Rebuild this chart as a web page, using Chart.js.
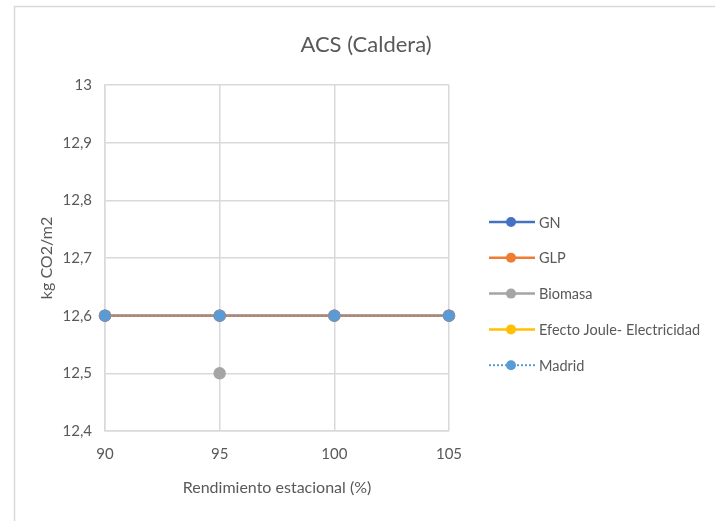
<!DOCTYPE html>
<html>
<head>
<meta charset="utf-8">
<script src="https://cdn.jsdelivr.net/npm/chart.js@4"></script>
<style>
  html, body { margin: 0; padding: 0; background: #ffffff; }
  #wrap { width: 715px; height: 521px; position: relative; }
</style>
</head>
<body>
<div id="wrap"><canvas id="c" width="715" height="521"></canvas></div>
<script>
// ---- Data ----
const chartTitle = 'ACS (Caldera)';
const xTitle = 'Rendimiento estacional (%)';
const yTitle = 'kg CO2/m2';
const categories = ['90', '95', '100', '105'];
const seriesNames = ['GN', 'GLP', 'Biomasa', 'Efecto Joule- Electricidad', 'Madrid'];
const gnValues = [12.6, 12.6, 12.6, 12.6];
const glpValues = [12.6, 12.6, 12.6, 12.6];
const biomasaValues = [null, 12.5, null, null];
const efectoValues = [null, null, null, null];
const madridValues = [12.6, 12.6, 12.6, 12.6];
const yMin = 12.4, yMax = 13, yStep = 0.1;

const colors = ['#4472C4', '#ED7D31', '#A5A5A5', '#FFC000', '#5B9BD5'];
const dashes = [[], [], [], [], [2, 2]];
const allValues = [gnValues, glpValues, biomasaValues, efectoValues, madridValues];

const FONT = 'Lato, "Open Sans", sans-serif';
const TEXT = '#595959';
const GRID = '#d9d9d9';

const datasets = seriesNames.map((name, i) => ({
  label: name,
  data: allValues[i],
  order: seriesNames.length - i,
  borderColor: colors[i],
  backgroundColor: colors[i],
  pointBackgroundColor: colors[i],
  pointBorderColor: colors[i],
  borderWidth: i === 4 ? 2 : 2.5,
  borderDash: dashes[i],
  pointRadius: 5,
  pointHoverRadius: 5,
  tension: 0,
  spanGaps: false
}));

const framePlugin = {
  id: 'frame',
  beforeDraw(chart) {
    const ctx = chart.ctx;
    ctx.save();
    ctx.fillStyle = '#ffffff';
    ctx.fillRect(0, 0, chart.width, chart.height);
    ctx.strokeStyle = GRID;
    ctx.lineWidth = 1.5;
    ctx.strokeRect(14.5, 6.5, chart.width + 10, chart.height + 10);
    ctx.restore();
  },
  afterDraw(chart) {
    const ctx = chart.ctx;
    ctx.save();
    // Title
    ctx.fillStyle = TEXT;
    ctx.font = '22px ' + FONT;
    ctx.textAlign = 'center';
    ctx.textBaseline = 'middle';
    ctx.fillText(chartTitle, 366, 45);
    // Legend (in dataset index order)
    const x0 = 489, x1 = 535, xm = 511, xt = 539;
    const y0 = 222, dy = 35.8;
    ctx.font = '14.5px ' + FONT;
    ctx.textAlign = 'left';
    chart.data.datasets.forEach((ds, i) => {
      const y = y0 + i * dy;
      ctx.strokeStyle = ds.borderColor;
      ctx.lineWidth = ds.borderWidth;
      ctx.setLineDash(ds.borderDash || []);
      ctx.beginPath();
      ctx.moveTo(x0, y);
      ctx.lineTo(x1, y);
      ctx.stroke();
      ctx.setLineDash([]);
      ctx.fillStyle = ds.backgroundColor;
      ctx.beginPath();
      ctx.arc(xm, y, 5, 0, Math.PI * 2);
      ctx.fill();
      ctx.fillStyle = TEXT;
      ctx.fillText(ds.label, xt, y + 1);
    });
    ctx.restore();
  }
};

new Chart(document.getElementById('c'), {
  type: 'line',
  data: { labels: categories, datasets: datasets },
  options: {
    responsive: false,
    animation: false,
    events: [],
    layout: { padding: { left: 20, right: 266, top: 85, bottom: 0 } },
    plugins: {
      legend: { display: false },
      title: { display: false },
      tooltip: { enabled: false }
    },
    scales: {
      x: {
        type: 'category',
        offset: false,
        grid: { color: GRID, lineWidth: 1.5, drawTicks: false },
        border: { color: GRID, width: 1.5 },
        ticks: { color: TEXT, font: { family: FONT, size: 15 }, padding: 14, maxRotation: 0 },
        title: { display: true, text: xTitle, color: TEXT, font: { family: FONT, size: 16 }, padding: { top: 4, bottom: 24 } },
        afterFit(scale) { scale.height = 90; }
      },
      y: {
        min: yMin,
        max: yMax,
        grid: { color: GRID, lineWidth: 1.5, drawTicks: false },
        border: { color: GRID, width: 1.5 },
        ticks: {
          stepSize: yStep,
          color: TEXT,
          font: { family: FONT, size: 15 },
          padding: 13,
          callback: (v) => {
            const r = Math.round(v * 10) / 10;
            return Number.isInteger(r) ? String(r) : r.toFixed(1).replace('.', ',');
          }
        },
        title: { display: true, text: yTitle, color: TEXT, font: { family: FONT, size: 16 }, padding: { top: 17, bottom: 4 } },
        afterFit(scale) { scale.width = 85; }
      }
    }
  },
  plugins: [framePlugin]
});
</script>
</body>
</html>
